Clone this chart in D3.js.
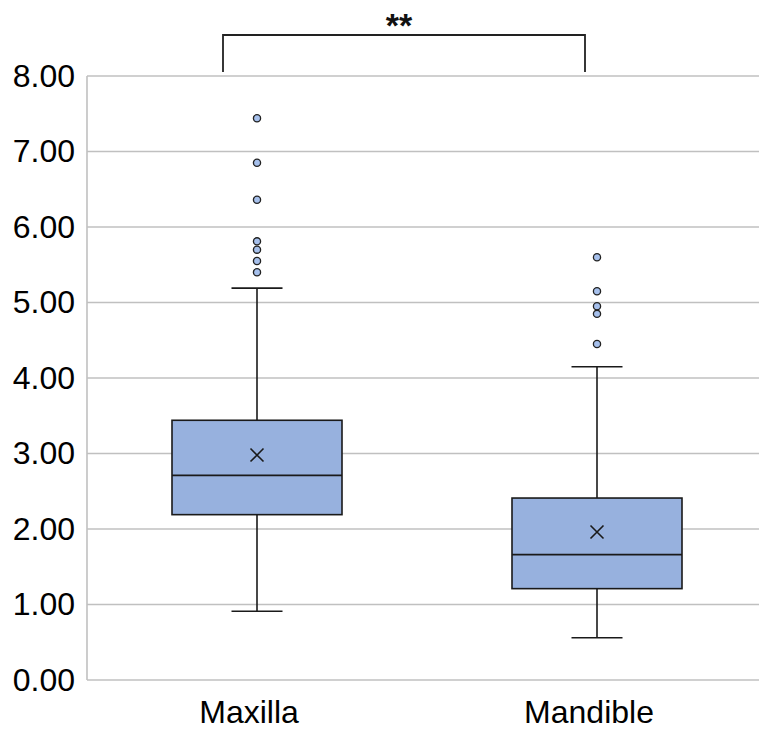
<!DOCTYPE html>
<html><head><meta charset="utf-8">
<script src="https://cdn.jsdelivr.net/npm/d3@7"></script>
<style>body{margin:0;background:#fff;} svg{display:block;font-family:"Liberation Sans",Arial,sans-serif;}</style>
</head><body>
<script>
const categories = ["Maxilla", "Mandible"];
const whiskerLow = [0.91, 0.56];
const q1 = [2.19, 1.21];
const median = [2.71, 1.66];
const q3 = [3.44, 2.41];
const whiskerHigh = [5.19, 4.15];
const means = [2.98, 1.96];
const outliers = [
  [7.44, 6.85, 6.36, 5.81, 5.70, 5.55, 5.40],
  [5.60, 5.15, 4.95, 4.85, 4.45]
];
const yTicks = [0, 1, 2, 3, 4, 5, 6, 7, 8];
const sigLabel = "**";

(function () {
const W = 759, H = 731;
const svg = d3.select("body").append("svg").attr("width", W).attr("height", H);
const mLeft = 87, mRight = 767, mTop = 76, mBottom = 680;

const x = d3.scaleBand().domain(categories).range([mLeft, mRight]).paddingInner(0).paddingOuter(0);
const y = d3.scaleLinear().domain([0, 8]).range([mBottom, mTop]);

// gridlines
svg.append("g").selectAll("line").data(yTicks).join("line")
  .attr("x1", mLeft).attr("x2", mRight)
  .attr("y1", d => y(d)).attr("y2", d => y(d))
  .attr("stroke", "#c0c0c0").attr("stroke-width", 1.6);
// left axis line
svg.append("line").attr("x1", mLeft).attr("x2", mLeft).attr("y1", y(8)).attr("y2", y(0))
  .attr("stroke", "#c0c0c0").attr("stroke-width", 1.6);

// y tick labels
const yAxis = d3.axisLeft(y).tickValues(yTicks).tickFormat(d3.format(".2f")).tickSize(0).tickPadding(12);
const ga = svg.append("g").attr("transform", `translate(${mLeft},0)`).call(yAxis);
ga.select(".domain").remove();
ga.selectAll("text").attr("font-size", 32).attr("fill", "#000")
  .attr("font-family", "'Liberation Sans', Arial, sans-serif");

// x labels
const xAxis = d3.axisBottom(x).tickSize(0).tickPadding(20.5);
const gx = svg.append("g").attr("transform", `translate(-8,${mBottom})`).call(xAxis);
gx.select(".domain").remove();
gx.selectAll("text").attr("font-size", 32).attr("fill", "#000")
  .attr("font-family", "'Liberation Sans', Arial, sans-serif");

const boxW = x.bandwidth() * 0.5;
const capW = x.bandwidth() * 0.15;
const stroke = "#1a1a1a";

categories.forEach((c, i) => {
  const cx = x(c) + x.bandwidth() / 2;
  const g = svg.append("g");
  g.append("line").attr("x1", cx).attr("x2", cx).attr("y1", y(q3[i])).attr("y2", y(whiskerHigh[i]))
    .attr("stroke", stroke).attr("stroke-width", 1.6);
  g.append("line").attr("x1", cx).attr("x2", cx).attr("y1", y(q1[i])).attr("y2", y(whiskerLow[i]))
    .attr("stroke", stroke).attr("stroke-width", 1.6);
  g.append("line").attr("x1", cx - capW / 2).attr("x2", cx + capW / 2).attr("y1", y(whiskerHigh[i])).attr("y2", y(whiskerHigh[i]))
    .attr("stroke", stroke).attr("stroke-width", 1.6);
  g.append("line").attr("x1", cx - capW / 2).attr("x2", cx + capW / 2).attr("y1", y(whiskerLow[i])).attr("y2", y(whiskerLow[i]))
    .attr("stroke", stroke).attr("stroke-width", 1.6);
  g.append("rect").attr("x", cx - boxW / 2).attr("y", y(q3[i])).attr("width", boxW).attr("height", y(q1[i]) - y(q3[i]))
    .attr("fill", "#97b1de").attr("stroke", stroke).attr("stroke-width", 1.6);
  g.append("line").attr("x1", cx - boxW / 2).attr("x2", cx + boxW / 2).attr("y1", y(median[i])).attr("y2", y(median[i]))
    .attr("stroke", stroke).attr("stroke-width", 1.8);
  const my = y(means[i]), s = 6.5;
  g.append("path").attr("d", `M${cx - s},${my - s}L${cx + s},${my + s}M${cx - s},${my + s}L${cx + s},${my - s}`)
    .attr("stroke", stroke).attr("stroke-width", 1.6).attr("fill", "none");
  g.selectAll("circle").data(outliers[i]).join("circle")
    .attr("cx", cx).attr("cy", d => y(d)).attr("r", 3.6)
    .attr("fill", "#a6c0ec").attr("stroke", "#222").attr("stroke-width", 1.3);
});

// significance bracket
const bx1 = x(categories[0]) + x.bandwidth() / 2 - 34;
const bx2 = x(categories[1]) + x.bandwidth() / 2 - 12;
const by = 35, bEnd = 72;
svg.append("path").attr("d", `M${bx1},${bEnd}L${bx1},${by}L${bx2},${by}L${bx2},${bEnd}`)
  .attr("fill", "none").attr("stroke", "#222").attr("stroke-width", 1.8);
svg.append("text").attr("x", (bx1 + bx2) / 2 - 5).attr("y", 37).attr("text-anchor", "middle")
  .attr("font-size", 34).attr("font-weight", "bold").attr("fill", "#111").text(sigLabel);
})();
</script>
</body></html>
